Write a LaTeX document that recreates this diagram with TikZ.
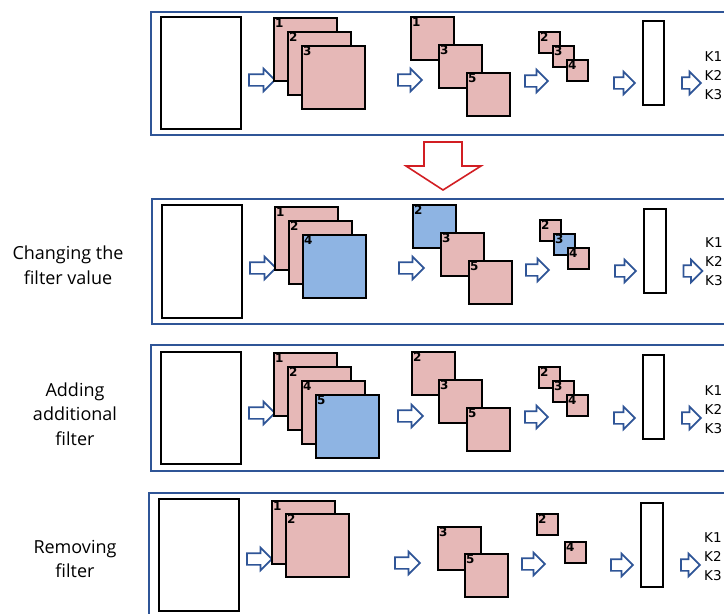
\documentclass[tikz,border=0pt]{standalone}
\usepackage{fontspec}
\setmainfont{Open Sans}
\newfontfamily\numfont{DejaVu Sans}
\usetikzlibrary{shapes.arrows}
\definecolor{frameblue}{RGB}{47,85,151}
\definecolor{pinkfill}{RGB}{230,184,183}
\definecolor{bluefill}{RGB}{142,180,227}
\definecolor{redarrow}{RGB}{210,30,35}
\tikzset{
  panel/.style={draw=frameblue, line width=1.9pt},
  inputbox/.style={draw=black, line width=1.7pt, fill=white, inner sep=0pt},
  numlbl/.style={anchor=north west, inner xsep=2pt, inner ysep=1.8pt,
    font=\numfont\bfseries\fontsize{12}{13}\selectfont},
  fbase/.style={draw=black, line width=1.7pt, inner sep=0pt, anchor=north west,
    label={[numlbl]north west:#1}},
  bigsq/.style={fbase=#1, fill=pinkfill, minimum size=63pt},
  bigsqb/.style={fbase=#1, fill=bluefill, minimum size=63pt},
  midsq/.style={fbase=#1, fill=pinkfill, minimum size=43pt},
  midsqb/.style={fbase=#1, fill=bluefill, minimum size=43pt},
  smsq/.style={fbase=#1, fill=pinkfill, minimum size=21pt},
  smsqb/.style={fbase=#1, fill=bluefill, minimum size=21pt},
  barrow/.style={single arrow, draw=frameblue, fill=white, line width=1.7pt,
    inner xsep=0pt, inner ysep=5pt, minimum width=0pt,
    single arrow head extend=5.5pt, minimum height=#1},
  ktext/.style={anchor=west, align=left, inner sep=0pt,
    font=\numfont\fontsize{13.5}{19}\selectfont},
  sidelabel/.style={align=center, inner sep=0pt, font=\fontsize{18}{24.5}\selectfont}
}
\begin{document}
\begin{tikzpicture}[x=1pt, y=-1pt]
\useasboundingbox (0,0) rectangle (724,614);
\clip (0,0) rectangle (724,614);

% ---------- Panel 1 ----------
\draw[panel] (151,12) rectangle (745,135);
\node[inputbox, minimum width=80pt, minimum height=112pt] (w1) at (201,73) {};
\node[barrow=26pt] (a11) at (259,80) {};
\node[bigsq=1] (s11) at (273,17) {};
\node[bigsq=2] (s12) at (287,31) {};
\node[bigsq=3] (s13) at (301,45) {};
\node[barrow=24pt] (a12) at (407,80) {};
\node[midsq=1] (p11) at (410,16) {};
\node[midsq=3] (p13) at (438,44) {};
\node[midsq=5] (p15) at (466,72) {};
\node[barrow=23pt] (a13) at (533.5,81) {};
\node[smsq=2] (m12) at (538,31) {};
\node[smsq=3] (m13) at (552,45) {};
\node[smsq=4] (m14) at (566,59) {};
\node[barrow=21pt] (a14) at (621.5,83) {};
\node[inputbox, minimum width=21pt, minimum height=84pt] (t1) at (653.5,63) {};
\node[barrow=19pt] (a15) at (688.5,83) {};
\node[ktext] (k1) at (704.5,76) {K1\\K2\\K3};

% ---------- red arrow ----------
\draw[draw=redarrow, fill=white, line width=1.6pt, line join=miter]
  (424,142) -- (462,142) -- (462,166) -- (481,166) -- (443,190)
  -- (406,166) -- (424,166) -- cycle;

% ---------- Panel 2 ----------
\node[sidelabel] (l2) at (68,265) {Changing the\\filter value};
\draw[panel] (152,199) rectangle (745,324);
\node[inputbox, minimum width=80pt, minimum height=113pt] (w2) at (202,261.5) {};
\node[barrow=26pt] (a21) at (260,268) {};
\node[bigsq=1] (s21) at (274,206) {};
\node[bigsq=2] (s22) at (288,220) {};
\node[bigsqb=4] (s24) at (302,234) {};
\node[barrow=25pt] (a22) at (408.5,268) {};
\node[midsqb=2] (p22) at (412,204) {};
\node[midsq=3] (p23) at (440,232) {};
\node[midsq=5] (p25) at (468,260) {};
\node[barrow=23pt] (a23) at (534.5,270) {};
\node[smsq=2] (m22) at (539,219) {};
\node[smsqb=3] (m23) at (553,233) {};
\node[smsq=4] (m24) at (567,247) {};
\node[barrow=21pt] (a24) at (622.5,271) {};
\node[inputbox, minimum width=22pt, minimum height=84pt] (t2) at (655,251) {};
\node[barrow=19pt] (a25) at (690,271) {};
\node[ktext] (k2) at (705,262) {K1\\K2\\K3};

% ---------- Panel 3 ----------
\node[sidelabel] (l3) at (75,414) {Adding\\additional\\filter};
\draw[panel] (151,345) rectangle (745,471);
\node[inputbox, minimum width=80pt, minimum height=112pt] (w3) at (201,408) {};
\node[barrow=26pt] (a31) at (259,413) {};
\node[bigsq=1] (s31) at (273,352) {};
\node[bigsq=2] (s32) at (287,366) {};
\node[bigsq=4] (s34) at (301,380) {};
\node[bigsqb=5] (s35) at (315,394) {};
\node[barrow=25pt] (a32) at (407.5,416) {};
\node[midsq=2] (p32) at (411,351) {};
\node[midsq=3] (p33) at (438,379) {};
\node[midsq=5] (p35) at (466,407) {};
\node[barrow=23pt] (a33) at (533.5,417) {};
\node[smsq=2] (m32) at (538,366) {};
\node[smsq=3] (m33) at (552,380) {};
\node[smsq=4] (m34) at (566,394) {};
\node[barrow=21pt] (a34) at (621.5,418) {};
\node[inputbox, minimum width=21pt, minimum height=84pt] (t3) at (653.5,397) {};
\node[barrow=19pt] (a35) at (688.5,418) {};
\node[ktext] (k3) at (704.5,410) {K1\\K2\\K3};

% ---------- Panel 4 ----------
\node[sidelabel] (l4) at (75,559) {Removing\\filter};
\draw[panel] (149,493) rectangle (745,640);
\node[inputbox, minimum width=80pt, minimum height=112pt] (w4) at (199,555) {};
\node[barrow=25pt] (a41) at (256.5,559) {};
\node[bigsq=1] (s41) at (271,500) {};
\node[bigsq=2] (s42) at (285,513) {};
\node[barrow=25pt] (a42) at (404.5,563) {};
\node[midsq=3] (p43) at (437,526) {};
\node[midsq=5] (p45) at (464,553) {};
\node[barrow=23pt] (a43) at (530.5,564) {};
\node[smsq=2] (m42) at (536,513) {};
\node[smsq=4] (m44) at (564,541) {};
\node[barrow=22pt] (a44) at (619,565) {};
\node[inputbox, minimum width=22pt, minimum height=84pt] (t4) at (652,545) {};
\node[barrow=19pt] (a45) at (687.5,565) {};
\node[ktext] (k4) at (704,557) {K1\\K2\\K3};
\end{tikzpicture}
\end{document}
